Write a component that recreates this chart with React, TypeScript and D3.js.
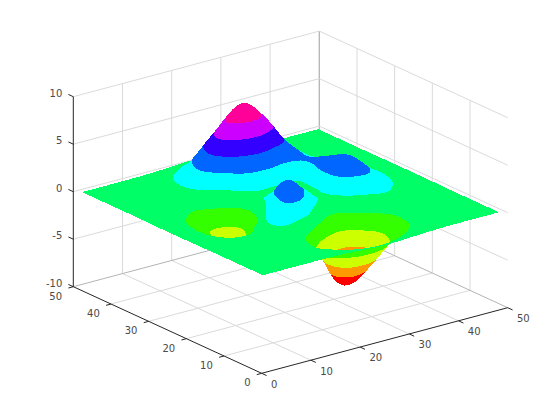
import React from "react";
import * as d3 from "d3";

// Grid nodes (sample index 1,5,...,49) and surface heights read as z[xIndex][yIndex]
const nodes = [1, 5, 9, 13, 17, 21, 25, 29, 33, 37, 41, 45, 49];
const heights: number[][] = [
  [0, 0, 0, 0, -0.01, -0.03, -0.04, -0.03, -0.01, 0, 0, 0, 0],
  [0, 0, 0.01, 0.01, -0.06, -0.2, -0.3, -0.25, -0.11, -0.02, 0.01, 0, 0],
  [0, 0.01, 0.05, 0.08, -0.13, -0.8, -1.33, -1.12, -0.48, -0.01, 0.08, 0.03, 0.01],
  [0, 0, 0.05, 0.33, 0.3, -1.21, -2.77, -2.49, -0.86, 0.48, 0.55, 0.19, 0.03],
  [-0.03, -0.23, -0.59, 0.15, 1.86, 0.8, -1.65, -2.0, 0.23, 2.61, 2.1, 0.69, 0.11],
  [-0.14, -0.91, -2.64, -2.19, 2.22, 3.55, 1.48, 0.39, 2.79, 6.2, 4.56, 1.47, 0.23],
  [-0.24, -1.57, -4.76, -6.05, -0.72, 2.0, 0.98, 0.46, 3.69, 8.1, 5.86, 1.88, 0.3],
  [-0.22, -1.41, -4.35, -6.1, -2.22, 0.39, 0.37, 0.38, 2.93, 6.25, 4.57, 1.47, 0.23],
  [-0.11, -0.69, -2.1, -2.64, -0.27, 2.2, 2.94, 2.38, 2.43, 3.25, 2.21, 0.7, 0.11],
  [-0.03, -0.18, -0.53, -0.44, 0.88, 2.56, 3.27, 2.56, 1.58, 1.19, 0.68, 0.21, 0.03],
  [0, -0.03, -0.06, 0.04, 0.5, 1.12, 1.41, 1.09, 0.58, 0.29, 0.13, 0.04, 0.01],
  [0, 0, 0, 0.03, 0.11, 0.24, 0.3, 0.23, 0.11, 0.05, 0.02, 0, 0],
  [0, 0, 0, 0, 0.01, 0.03, 0.03, 0.03, 0.01, 0, 0, 0, 0],
];
const bandColors = ["#ff0000", "#ff9900", "#ccff00", "#33ff00", "#00ff66", "#00ffff", "#0066ff", "#3300ff", "#cc00ff", "#ff0099"];
const colorDomain = [-6.55, 8.1];
const xTicks = [0, 10, 20, 30, 40, 50];
const yTicks = [0, 10, 20, 30, 40, 50];
const zTicks = [-10, -5, 0, 5, 10];

const W = 560, H = 420;
const xDx = d3.scaleLinear().domain([0, 50]).range([0, 246]);
const xDy = d3.scaleLinear().domain([0, 50]).range([0, -65.6]);
const yDx = d3.scaleLinear().domain([0, 50]).range([0, -188.4]);
const yDy = d3.scaleLinear().domain([0, 50]).range([0, -86.6]);
const zDy = d3.scaleLinear().domain([-10, 10]).range([0, -190]);
const px = (x: number, y: number) => 261.7 + xDx(x) + yDx(y);
const py = (x: number, y: number, z: number) => 373.3 + xDy(x) + yDy(y) + zDy(z);
const band = d3.scaleQuantize<string>().domain(colorDomain).range(bandColors);

function cr(a: number, b: number, c: number, d: number, t: number) {
  return 0.5 * (2 * b + (c - a) * t + (2 * a - 5 * b + 4 * c - d) * t * t + (3 * b - a - 3 * c + d) * t * t * t);
}
function heightAt(x: number, y: number) {
  const n = nodes.length;
  const u = Math.min((x - nodes[0]) / (nodes[1] - nodes[0]), n - 1.0001);
  const v = Math.min((y - nodes[0]) / (nodes[1] - nodes[0]), n - 1.0001);
  const i = Math.floor(u), j = Math.floor(v);
  const s = u - i, t = v - j;
  const g = (a: number, b: number) => heights[Math.max(0, Math.min(n - 1, a))][Math.max(0, Math.min(n - 1, b))];
  const col = [-1, 0, 1, 2].map((k) => cr(g(i + k, j - 1), g(i + k, j), g(i + k, j + 1), g(i + k, j + 2), t));
  return cr(col[0], col[1], col[2], col[3], s);
}

type V = [number, number, number];
function clip(poly: V[], level: number, keepAbove: boolean): V[] {
  const out: V[] = [];
  const ins = (v: V) => (keepAbove ? v[2] >= level : v[2] <= level);
  for (let i = 0; i < poly.length; i++) {
    const a = poly[i], b = poly[(i + 1) % poly.length];
    if (ins(a)) out.push(a);
    if (ins(a) !== ins(b)) {
      const t = (level - a[2]) / (b[2] - a[2]);
      out.push([a[0] + t * (b[0] - a[0]), a[1] + t * (b[1] - a[1]), level]);
    }
  }
  return out;
}

function buildSurface() {
  const step = 0.5;
  const N = Math.round(48 / step);
  const zs: number[][] = d3.range(N + 1).map((i) => d3.range(N + 1).map((j) => heightAt(1 + i * step, 1 + j * step)));
  const levels = band.thresholds();
  const out: { d: string; fill: string }[] = [];
  let cur = "", buf = "";
  const flush = () => {
    if (buf) out.push({ d: buf, fill: cur });
    buf = "";
  };
  const emit = (tri: V[]) => {
    const lo = Math.min(tri[0][2], tri[1][2], tri[2][2]);
    const hi = Math.max(tri[0][2], tri[1][2], tri[2][2]);
    for (let k = 0; k < bandColors.length; k++) {
      const a = k === 0 ? -Infinity : levels[k - 1];
      const b = k === bandColors.length - 1 ? Infinity : levels[k];
      if (hi < a || lo > b) continue;
      let poly = tri;
      if (k > 0) poly = clip(poly, a, true);
      if (k < bandColors.length - 1) poly = clip(poly, b, false);
      if (poly.length < 3) continue;
      const pts = poly.map((v) => [px(v[0], v[1]), py(v[0], v[1], v[2])]);
      if (d3.polygonArea(pts as [number, number][]) < 0) pts.reverse();
      if (bandColors[k] !== cur) {
        flush();
        cur = bandColors[k];
      }
      buf += "M" + pts.map((p) => p[0].toFixed(2) + "," + p[1].toFixed(2)).join("L") + "Z";
    }
  };
  for (let i = N - 1; i >= 0; i--) {
    for (let j = N - 1; j >= 0; j--) {
      const v = (a: number, b: number): V => [1 + a * step, 1 + b * step, zs[a][b]];
      emit([v(i + 1, j + 1), v(i + 1, j), v(i, j + 1)]);
      emit([v(i, j), v(i + 1, j), v(i, j + 1)]);
    }
  }
  flush();
  return out;
}

export default function App() {
  const surface = React.useMemo(buildSurface, []);
  const grid = "#dadada", edge = "#b4b4b4", axis = "#262626", text = "#4a4a4a";
  const L = (k: string, a: [number, number], b: [number, number], stroke: string) => (
    <line key={k} x1={a[0]} y1={a[1]} x2={b[0]} y2={b[1]} stroke={stroke} strokeWidth={1} />
  );
  const p3 = (x: number, y: number, z: number): [number, number] => [px(x, y), py(x, y, z)];
  return (
    <svg width={W} height={H} style={{ position: "absolute", left: 0, top: 0, background: "#fff" }} fontFamily="DejaVu Sans" fontSize={10}>
      {xTicks.slice(1, -1).map((t) => L("gxf" + t, p3(t, 0, -10), p3(t, 50, -10), grid))}
      {yTicks.slice(1, -1).map((t) => L("gyf" + t, p3(0, t, -10), p3(50, t, -10), grid))}
      {xTicks.slice(1).map((t) => L("gxw" + t, p3(t, 50, -10), p3(t, 50, 10), t === 50 ? edge : grid))}
      {yTicks.slice(1).map((t) => L("gyw" + t, p3(50, t, -10), p3(50, t, 10), t === 50 ? edge : grid))}
      {zTicks.slice(1).map((t) => L("gzy" + t, p3(0, 50, t), p3(50, 50, t), grid))}
      {zTicks.slice(1).map((t) => L("gzx" + t, p3(50, 0, t), p3(50, 50, t), grid))}
      {L("b1", p3(0, 50, -10), p3(50, 50, -10), edge)}
      {L("b2", p3(50, 0, -10), p3(50, 50, -10), edge)}
      <g shapeRendering="crispEdges">
        {surface.map((s, i) => (
          <path key={i} d={s.d} fill={s.fill} />
        ))}
      </g>
      {L("ax", p3(0, 0, -10), p3(50, 0, -10), axis)}
      {L("ay", p3(0, 0, -10), p3(0, 50, -10), axis)}
      {L("az", p3(0, 50, -10), p3(0, 50, 10), axis)}
      {xTicks.map((t) => L("tx" + t, p3(t, 0, -10), p3(t, -1.3, -10), axis))}
      {yTicks.map((t) => L("ty" + t, p3(0, t, -10), p3(-1, t, -10), axis))}
      {zTicks.map((t) => L("tz" + t, p3(0, 50, t), p3(0, 51.3, t), axis))}
      {xTicks.map((t) => {
        const [a, b] = p3(t, 0, -10);
        return <text key={"lx" + t} x={a + 9.3} y={b + 10.8} dy="0.36em" textAnchor="start" fill={text}>{t}</text>;
      })}
      {yTicks.map((t) => {
        const [a, b] = p3(0, t, -10);
        return <text key={"ly" + t} x={a - 11.2} y={b + 9.3} dy="0.36em" textAnchor="end" fill={text}>{t}</text>;
      })}
      {zTicks.map((t) => {
        const [a, b] = p3(0, 50, t);
        return <text key={"lz" + t} x={a - 11} y={b - 3.4} dy="0.36em" textAnchor="end" fill={text}>{t}</text>;
      })}
    </svg>
  );
}
